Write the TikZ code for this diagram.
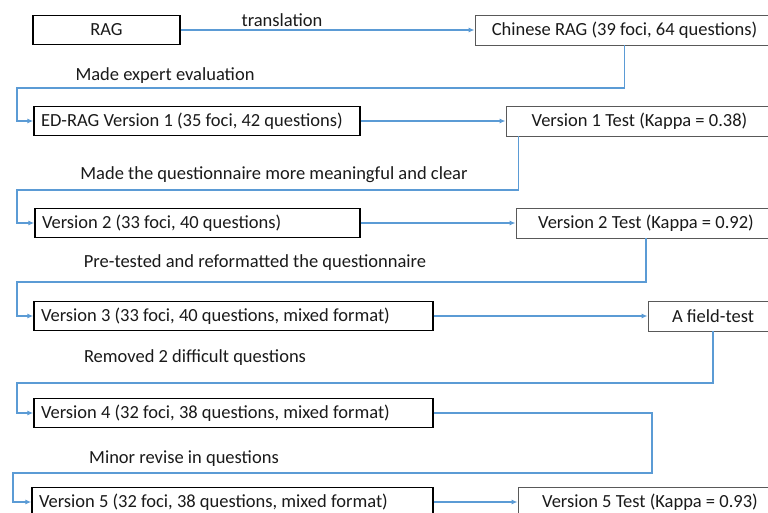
\documentclass[tikz,border=0pt]{standalone}
\usepackage{fontspec}
\setmainfont{Carlito}
\usetikzlibrary{arrows.meta}
\definecolor{flowblue}{HTML}{5B9BD5}
\definecolor{textgray}{HTML}{1A1A1A}
\newcommand{\lefttext}[2]{\makebox[#1][l]{#2}}

\begin{document}
\begin{tikzpicture}[x=1pt, y=-1pt,
  flow/.style={draw=flowblue, line width=1.2pt, -{Latex[length=6pt,width=5pt]}},
  stagebox/.style={draw=black, line width=1.4pt, minimum height=29pt,
    inner xsep=7pt, inner ysep=0pt, text=textgray,
    font=\fontsize{18.5}{20}\selectfont},
  testbox/.style={draw=black!65, line width=0.9pt, minimum height=30pt,
    inner sep=0pt, text=textgray, font=\fontsize{18.5}{20}\selectfont},
  notetext/.style={inner sep=0pt, text=textgray, font=\fontsize{18.5}{20}\selectfont}
]
  \useasboundingbox[fill=white] (0,0) rectangle (768,513);
  \def\Xl{17};
  \def\Yr{30};
  \def\Ya{121};
  \def\Yb{223};
  \def\Yc{316};
  \def\Yd{413};
  \def\Ye{502};

        % row 1
        \node[stagebox, minimum width=147pt] (rag) at (106.5, \Yr) {RAG};
        \node[testbox, minimum width=299pt] (chn) at (624.5, \Yr) {Chinese RAG (39 foci, 64 questions)};
        \node[notetext] (ltr) at (282, 20) {translation};
        \draw[flow] (rag) -- (chn);

        % row 2
        \node[stagebox] (ed) at (197, \Ya) {\lefttext{312pt}{ED-RAG Version 1 (35 foci, 42 questions)}};
        \node[testbox, minimum width=267pt] (vat) at (639.5, \Ya) {Version 1 Test (Kappa = 0.38)};
        \node[notetext] (lexp) at (165, 76) {Made expert evaluation};
        \coordinate (ta) at (\Xl, 88);
        \draw[flow] (chn.south) |- (ta) |- (ed.west);   % chinese -> v1
        \draw[flow] (ed) -- (vat);

        % row 3
        \node[stagebox] (vb) at (197.5, \Yb) {\lefttext{311pt}{Version 2 (33 foci, 40 questions)}};
        \node[testbox, minimum width=260pt] (vbt) at (646, \Yb) {Version 2 Test (Kappa = 0.92)};
        \node[notetext] (lmean) at (274, 175) {Made the questionnaire more meaningful and clear};
        \coordinate (tb) at (\Xl, 190);
        \draw[flow] ([xshift=13pt]vat.south west) |- (tb) |- (vb.west);   % v1 test -> v2
        \draw[flow] (vb) -- (vbt);

        % row 4
        \node[stagebox] (vc) at (233.5, \Yc) {\lefttext{385pt}{Version 3 (33 foci, 40 questions, mixed format)}};
        \node[testbox, minimum width=130pt] (fld) at (713, \Yc) {A field-test};
        \node[notetext] (lpre) at (255, 263) {Pre-tested and reformatted the questionnaire};
        \coordinate (tc) at (\Xl, 282);
        \draw[flow] (vbt.south) |- (tc) |- (vc.west);   % v2 test -> v3
        \draw[flow] (vc) -- (fld);

        % row 5
        \node[stagebox] (vd) at (233.5, \Yd) {\lefttext{385pt}{Version 4 (32 foci, 38 questions, mixed format)}};
        \node[notetext] (lrem) at (195, 358) {Removed 2 difficult questions};
        \coordinate (td) at (\Xl, 383);
        \draw[flow] (fld.south) |- (td) |- (vd.west);   % field test -> v4

        % row 6
        \node[stagebox] (ve) at (232.5, \Ye) {\lefttext{387pt}{Version 5 (32 foci, 38 questions, mixed format)}};
        \node[testbox, minimum width=264pt] (vet) at (650, \Ye) {Version 5 Test (Kappa = 0.93)};
        \node[notetext] (lmin) at (184, 459) {Minor revise in questions};
        \coordinate (re) at (652, 473);
        \coordinate (te) at (13, 473);
        \draw[flow] (vd.east) -| (re) -- (te) |- (ve.west);   % v4 -> v5
        \draw[flow] (ve) -- (vet);

\end{tikzpicture}
\end{document}
